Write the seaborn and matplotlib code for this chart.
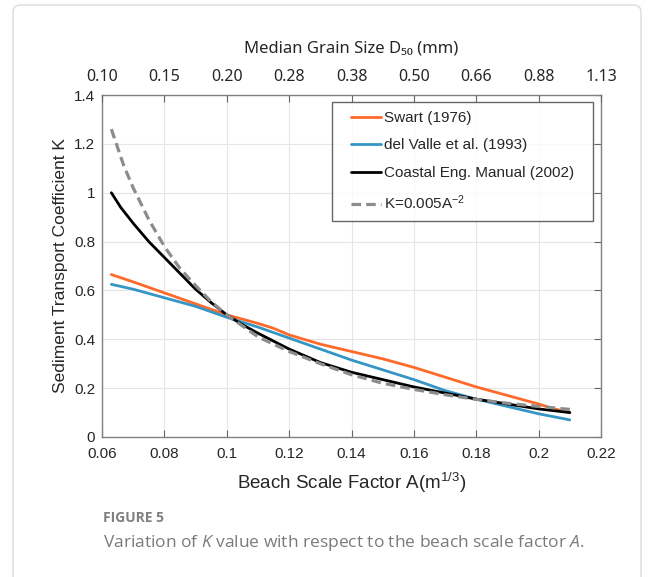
import matplotlib
matplotlib.use('Agg')
import matplotlib.pyplot as plt
import seaborn as sns
from matplotlib.patches import FancyBboxPatch
from matplotlib.path import Path

# Swart (1976)
a_swart = [0.063, 0.07, 0.08, 0.09, 0.10, 0.11, 0.115, 0.12, 0.13, 0.14, 0.15,
           0.16, 0.17, 0.18, 0.19, 0.20, 0.205, 0.21]
k_swart = [0.665, 0.635, 0.59, 0.545, 0.50, 0.465, 0.445, 0.418, 0.38, 0.35, 0.32,
           0.285, 0.245, 0.205, 0.17, 0.135, 0.115, 0.10]

# del Valle et al. (1993)
a_valle = [0.063, 0.07, 0.08, 0.09, 0.10, 0.11, 0.12, 0.13, 0.14, 0.15, 0.16,
           0.17, 0.18, 0.19, 0.20, 0.21]
k_valle = [0.625, 0.605, 0.57, 0.535, 0.49, 0.45, 0.405, 0.36, 0.315, 0.275, 0.235,
           0.19, 0.155, 0.125, 0.095, 0.07]

# Coastal Eng. Manual (2002)
a_cem = [0.063, 0.066, 0.07, 0.075, 0.08, 0.085, 0.09, 0.095, 0.10, 0.105, 0.11,
         0.12, 0.13, 0.14, 0.15, 0.16, 0.17, 0.18, 0.19, 0.20, 0.21]
k_cem = [1.0, 0.94, 0.875, 0.80, 0.735, 0.67, 0.605, 0.55, 0.50, 0.46, 0.425,
         0.36, 0.305, 0.265, 0.235, 0.205, 0.18, 0.155, 0.135, 0.115, 0.10]

# K = 0.005 A^-2
a_fit = [0.063, 0.067, 0.07, 0.075, 0.08, 0.085, 0.09, 0.095, 0.10, 0.11, 0.12,
         0.13, 0.14, 0.15, 0.16, 0.17, 0.18, 0.19, 0.20, 0.21]
k_fit = [1.26, 1.11, 1.02, 0.89, 0.78, 0.69, 0.62, 0.554, 0.50, 0.41, 0.35,
         0.30, 0.255, 0.22, 0.195, 0.173, 0.154, 0.138, 0.125, 0.113]

x_ticks = [0.06, 0.08, 0.10, 0.12, 0.14, 0.16, 0.18, 0.20, 0.22]
x_tick_labels = ['0.06', '0.08', '0.1', '0.12', '0.14', '0.16', '0.18', '0.2', '0.22']
top_tick_labels = ['0.10', '0.15', '0.20', '0.28', '0.38', '0.50', '0.66', '0.88', '1.13']
y_ticks = [0, 0.2, 0.4, 0.6, 0.8, 1.0, 1.2, 1.4]
y_tick_labels = ['0', '0.2', '0.4', '0.6', '0.8', '1', '1.2', '1.4']

sns.set_style('white')
plt.rcParams['font.family'] = ['Liberation Sans', 'DejaVu Sans']
plt.rcParams['mathtext.default'] = 'regular'
plt.rcParams['mathtext.fontset'] = 'custom'
plt.rcParams['mathtext.it'] = 'Open Sans:italic'

fig = plt.figure(figsize=(6.54, 5.77), dpi=100)

# light frame around the whole figure panel
frame = FancyBboxPatch((13 / 654, -0.05), 628 / 654, 1 - 5 / 577 + 0.05,
                       boxstyle='round,pad=0,rounding_size=0.012',
                       transform=fig.transFigure, facecolor='none',
                       edgecolor='#dcdcdc', linewidth=1.0)
fig.patches.append(frame)

ax = fig.add_axes([102 / 654, 1 - 437 / 577, 499 / 654, 342 / 577])

sns.lineplot(x=a_swart, y=k_swart, ax=ax, color='#FF6A2B', linewidth=2.0,
             label='Swart (1976)')
sns.lineplot(x=a_valle, y=k_valle, ax=ax, color='#3596C5', linewidth=2.0,
             label='del Valle et al. (1993)')
sns.lineplot(x=a_cem, y=k_cem, ax=ax, color='black', linewidth=2.0,
             label='Coastal Eng. Manual (2002)')
sns.lineplot(x=a_fit, y=k_fit, ax=ax, color='#8c8c8c', linewidth=2.3,
             linestyle=(0, (3, 1.6)), label='K=0.005A$^{-2}$')

ax.set_xlim(0.06, 0.22)
ax.set_ylim(0, 1.4)
ax.set_xticks(x_ticks)
ax.set_xticklabels(x_tick_labels)
ax.set_yticks(y_ticks)
ax.set_yticklabels(y_tick_labels)
ax.grid(True, color='#e6e6e6', linewidth=0.8)
ax.tick_params(axis='both', direction='in', length=5, width=0.8,
               color='#666666', labelsize=11, labelcolor='#262626', pad=5,
               right=True)
ax.tick_params(axis='x', pad=7)
for s in ax.spines.values():
    s.set_color('#808080')
    s.set_linewidth(1.0)

ax.set_xlabel('Beach Scale Factor A(m$^{1/3}$)', fontsize=13.5, color='#262626',
              labelpad=7)
ax.set_ylabel('Sediment Transport Coefficient K', fontsize=12.5, color='#262626',
              labelpad=4)


# legend frame a bit wider than tall padding, like the original box
def wide_box(x0, y0, width, height, mutation_size):
    dx = 0.65 * mutation_size
    x0 -= dx
    width += 2 * dx
    return Path([(x0, y0), (x0 + width, y0), (x0 + width, y0 + height),
                 (x0, y0 + height), (x0, y0)], closed=True)


leg = ax.legend(loc='upper right', bbox_to_anchor=(0.964, 0.98), frameon=True,
                fancybox=False, edgecolor='#404040', fontsize=11,
                handlelength=2.0, handletextpad=0.15, labelspacing=0.88,
                borderpad=0.6, borderaxespad=0)
leg.get_frame().set_linewidth(1.0)
leg.get_frame().set_boxstyle(wide_box)

# secondary top axis for grain size
ax2 = ax.twiny()
ax2.set_xlim(ax.get_xlim())
ax2.set_xticks(x_ticks)
ax2.set_xticklabels(top_tick_labels, fontfamily=['Noto Sans', 'DejaVu Sans'])
ax2.tick_params(axis='x', direction='in', length=5, width=0.8, color='#666666',
                labelsize=11.5, labelcolor='#262626', pad=7)
for s in ax2.spines.values():
    s.set_visible(False)
ax2.set_xlabel('Median Grain Size D\u2085\u2080 (mm)', fontsize=12,
               color='#262626', labelpad=12,
               fontfamily=['Noto Sans', 'DejaVu Sans'])

# caption
fig.text(103 / 654, 1 - 518 / 577, 'FIGURE 5', fontsize=10, fontweight='bold',
         color='#808080', va='center', ha='left',
         family=['Open Sans', 'DejaVu Sans'])
fig.text(103 / 654, 1 - 543 / 577,
         'Variation of $\\mathit{K}$ value with respect to the beach scale factor $\\mathit{A}$.',
         fontsize=12.5, color='#7a7a7a', va='center', ha='left',
         family=['Open Sans', 'DejaVu Sans'])

fig.savefig('out.png', dpi=100)
